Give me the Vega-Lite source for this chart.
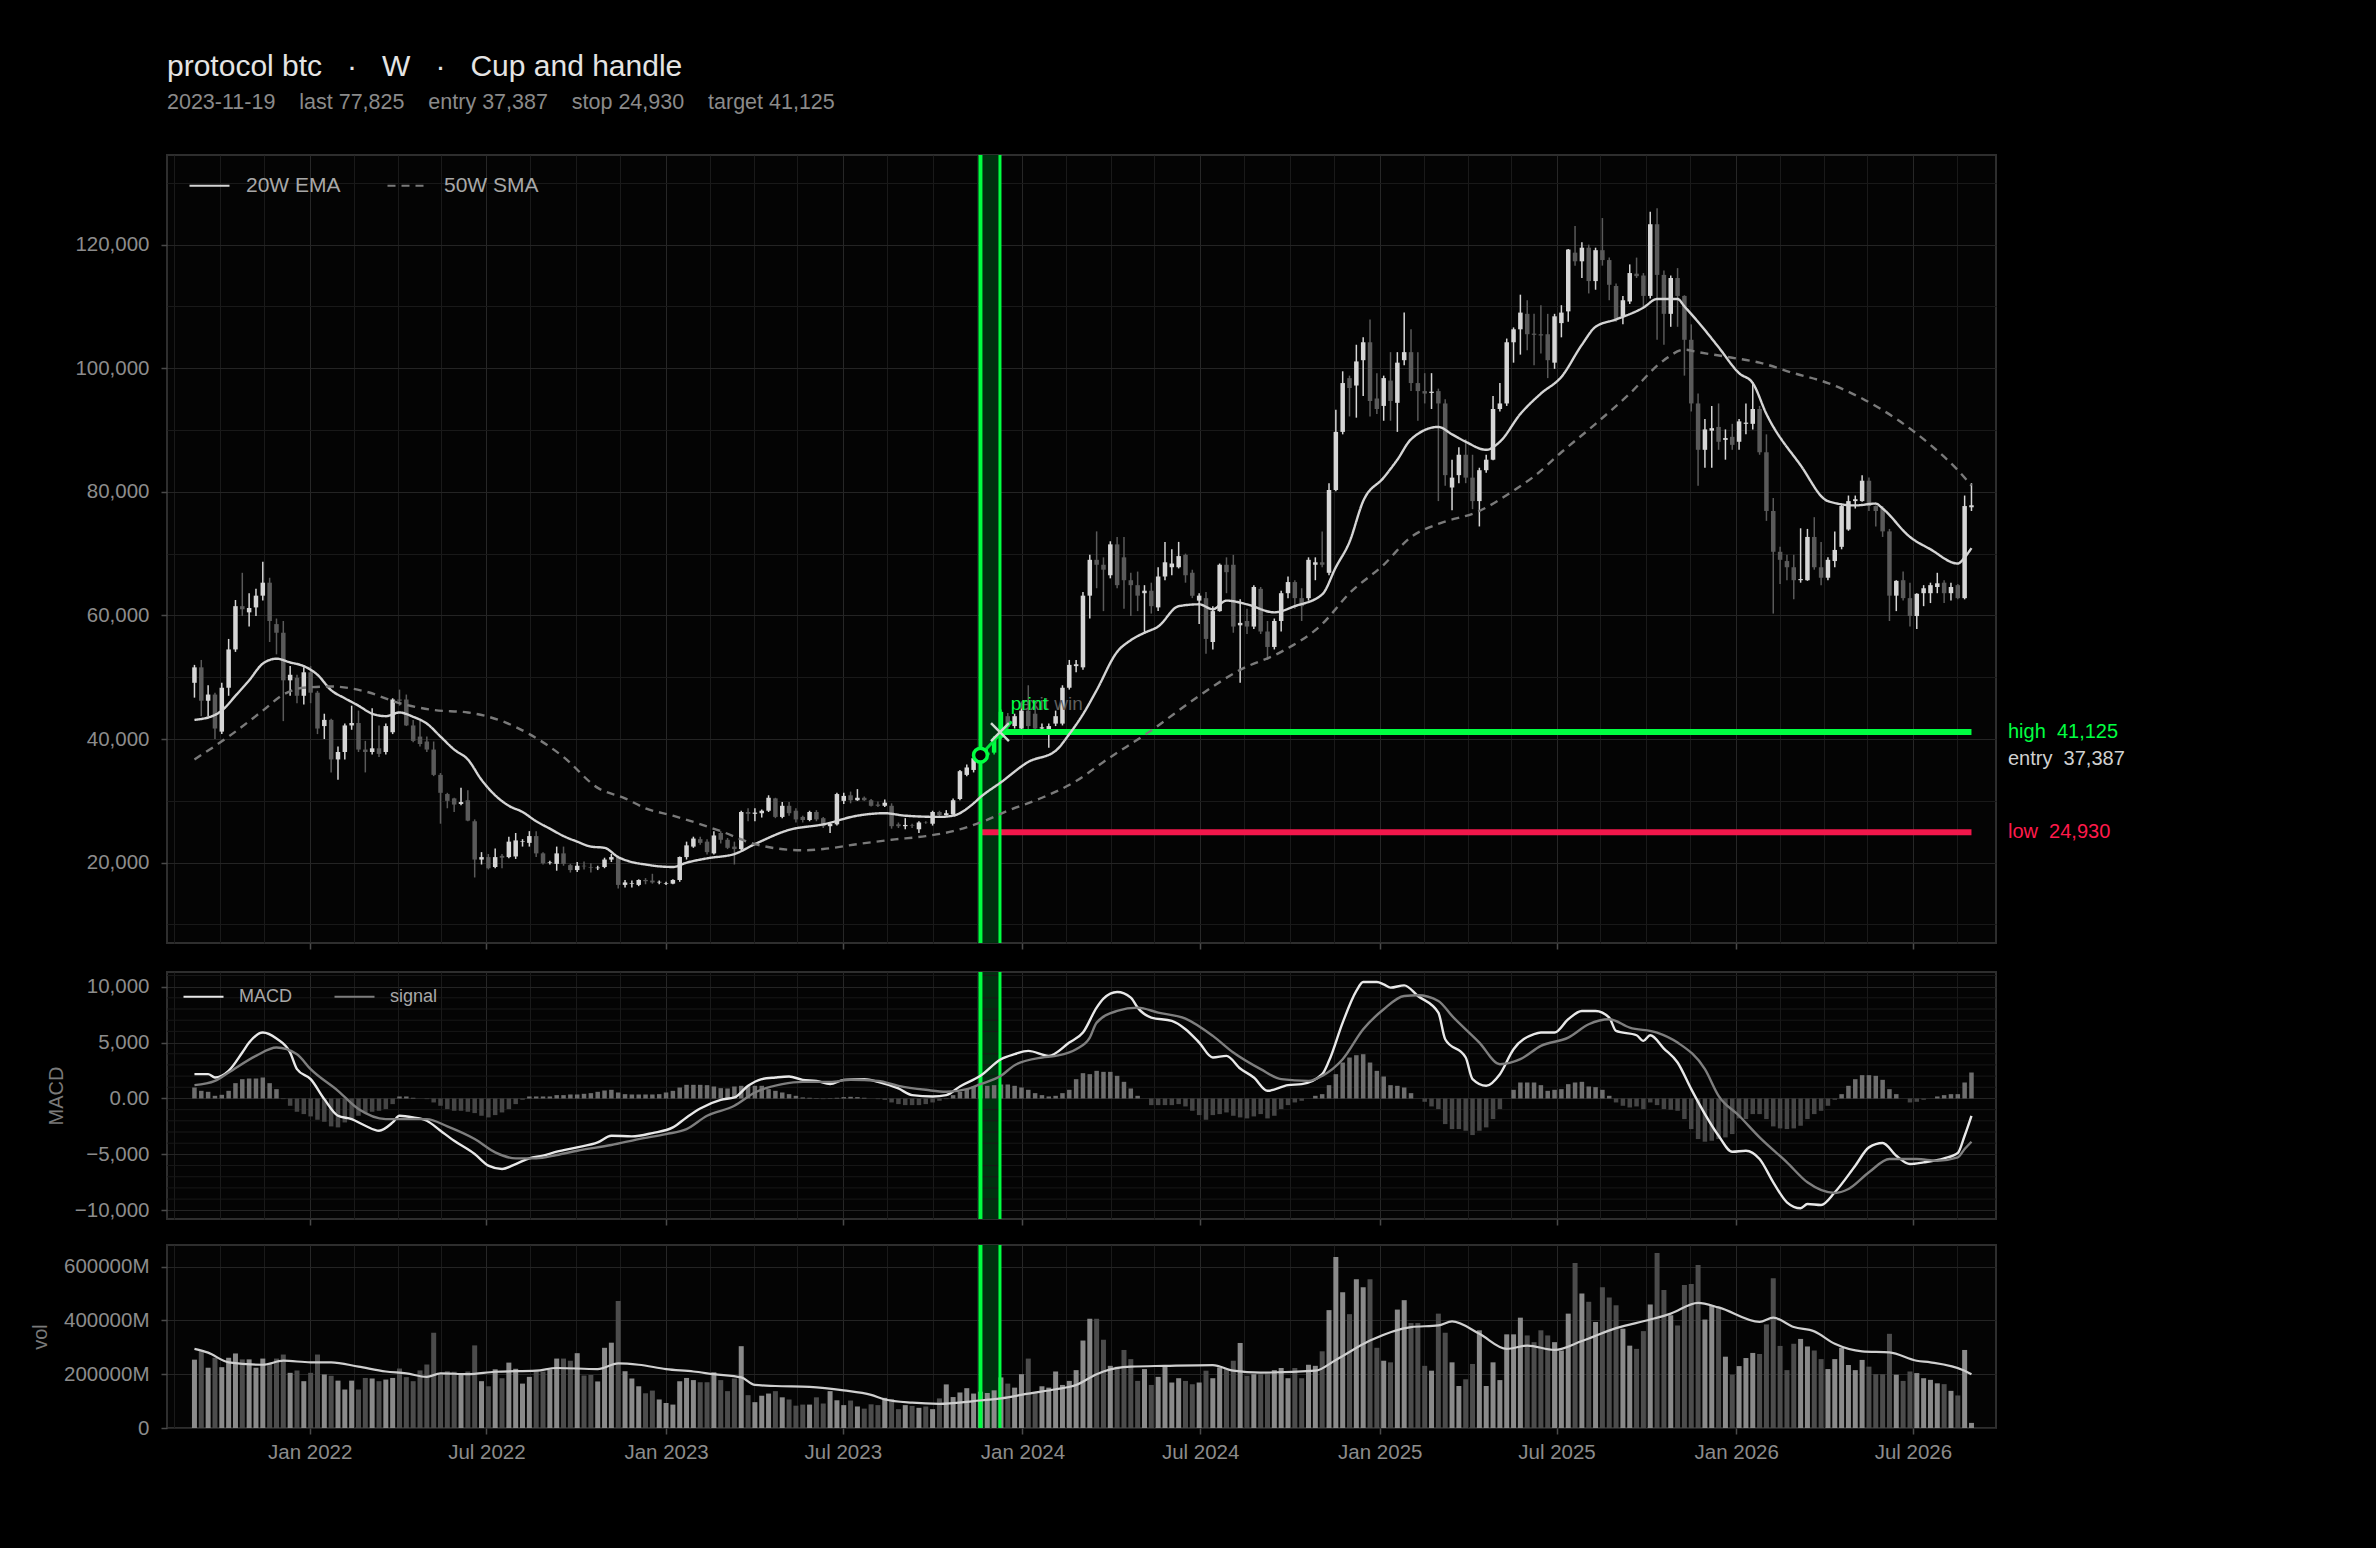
{
  "$schema": "https://vega.github.io/schema/vega-lite/v6.json",
  "background": "#000000",
  "padding": {"left": 29, "top": 50, "right": 268, "bottom": 86},
  "spacing": 18,
  "config": {
    "font": "Liberation Sans",
    "view": {"stroke": "#2e2e2e", "strokeWidth": 2, "fill": "#040404"},
    "axis": {
      "labelColor": "#8c8c8c", "labelFontSize": 20.5, "labelFont": "Liberation Sans",
      "titleColor": "#7a7a7a", "titleFont": "Liberation Sans", "titleFontSize": 20, "titleFontWeight": "normal",
      "domain": false, "tickColor": "#4a4a4a", "tickSize": 6, "tickWidth": 1.5, "gridWidth": 1,
      "labelOverlap": false, "labelFlush": false
    }
  },
  "resolve": {"scale": {"color": "independent", "strokeDash": "independent"}, "legend": {"color": "independent", "strokeDash": "independent"}},
  "datasets": {
    "candles": [
      {"d":"2021-09-05","o":49100,"h":52000,"l":46700,"c":51600,"v":254000,"m":982},
      {"d":"2021-09-12","o":51600,"h":52800,"l":43700,"c":46200,"v":286000,"m":684},
      {"d":"2021-09-19","o":46200,"h":48700,"l":43700,"c":47200,"v":224000,"m":595},
      {"d":"2021-09-26","o":47200,"h":47500,"l":40000,"c":41700,"v":261000,"m":238},
      {"d":"2021-10-03","o":41200,"h":49100,"l":40800,"c":48300,"v":226000,"m":327},
      {"d":"2021-10-10","o":48300,"h":56200,"l":47000,"c":54500,"v":261000,"m":684},
      {"d":"2021-10-17","o":54500,"h":62500,"l":54100,"c":61500,"v":277000,"m":1369},
      {"d":"2021-10-24","o":61500,"h":66900,"l":59900,"c":61000,"v":255000,"m":1726},
      {"d":"2021-10-31","o":60500,"h":63600,"l":58200,"c":61200,"v":255000,"m":1786},
      {"d":"2021-11-07","o":61300,"h":64300,"l":59900,"c":63200,"v":224000,"m":1786},
      {"d":"2021-11-14","o":63200,"h":68700,"l":62400,"c":65300,"v":258000,"m":1875},
      {"d":"2021-11-21","o":65300,"h":66100,"l":55700,"c":59100,"v":242000,"m":1369},
      {"d":"2021-11-28","o":58600,"h":59500,"l":53700,"c":57200,"v":258000,"m":833},
      {"d":"2021-12-05","o":57200,"h":59100,"l":42900,"c":49500,"v":273000,"m":-60},
      {"d":"2021-12-12","o":49500,"h":51800,"l":47000,"c":50400,"v":205000,"m":-655},
      {"d":"2021-12-19","o":49900,"h":50400,"l":45800,"c":47000,"v":214000,"m":-1190},
      {"d":"2021-12-26","o":47000,"h":51600,"l":45600,"c":50800,"v":174000,"m":-1399},
      {"d":"2022-01-02","o":50800,"h":51800,"l":45800,"c":47500,"v":205000,"m":-1607},
      {"d":"2022-01-09","o":47500,"h":47800,"l":40800,"c":41700,"v":273000,"m":-1905},
      {"d":"2022-01-16","o":42100,"h":44100,"l":40000,"c":43100,"v":199000,"m":-2083},
      {"d":"2022-01-23","o":43100,"h":43300,"l":34600,"c":36700,"v":194000,"m":-2500},
      {"d":"2022-01-30","o":36700,"h":38800,"l":33400,"c":37900,"v":176000,"m":-2589},
      {"d":"2022-02-06","o":37900,"h":42500,"l":36700,"c":42200,"v":143000,"m":-2143},
      {"d":"2022-02-13","o":42200,"h":45400,"l":41500,"c":42600,"v":176000,"m":-1845},
      {"d":"2022-02-20","o":42600,"h":44600,"l":37900,"c":38300,"v":143000,"m":-1548},
      {"d":"2022-02-27","o":38300,"h":39700,"l":34600,"c":37900,"v":186000,"m":-1309},
      {"d":"2022-03-06","o":37900,"h":45000,"l":37500,"c":38500,"v":184000,"m":-1190},
      {"d":"2022-03-13","o":38500,"h":42200,"l":37100,"c":37600,"v":174000,"m":-1101},
      {"d":"2022-03-20","o":37900,"h":42500,"l":37500,"c":42100,"v":180000,"m":-952},
      {"d":"2022-03-27","o":41100,"h":46600,"l":40800,"c":46400,"v":186000,"m":-506},
      {"d":"2022-04-03","o":46400,"h":48000,"l":45400,"c":46200,"v":221000,"m":179},
      {"d":"2022-04-10","o":46400,"h":47200,"l":42100,"c":42200,"v":189000,"m":179},
      {"d":"2022-04-17","o":42200,"h":43100,"l":39500,"c":39700,"v":174000,"m":60},
      {"d":"2022-04-24","o":40400,"h":42900,"l":38800,"c":39200,"v":214000,"m":0},
      {"d":"2022-05-01","o":39600,"h":40400,"l":37900,"c":38300,"v":236000,"m":-60},
      {"d":"2022-05-08","o":38300,"h":39600,"l":34000,"c":34200,"v":354000,"m":-357},
      {"d":"2022-05-15","o":34200,"h":34500,"l":26300,"c":31300,"v":199000,"m":-655},
      {"d":"2022-05-22","o":31100,"h":31300,"l":28800,"c":30000,"v":211000,"m":-952},
      {"d":"2022-05-29","o":30400,"h":30500,"l":28200,"c":29400,"v":209000,"m":-1101},
      {"d":"2022-06-05","o":29500,"h":32100,"l":29300,"c":29800,"v":201000,"m":-1101},
      {"d":"2022-06-12","o":30100,"h":31700,"l":26700,"c":26800,"v":210000,"m":-1190},
      {"d":"2022-06-19","o":26700,"h":27000,"l":17600,"c":20500,"v":307000,"m":-1309},
      {"d":"2022-06-26","o":20500,"h":21700,"l":19700,"c":20900,"v":174000,"m":-1548},
      {"d":"2022-07-03","o":20900,"h":21400,"l":18900,"c":19100,"v":155000,"m":-1696},
      {"d":"2022-07-10","o":19300,"h":22300,"l":19100,"c":20900,"v":218000,"m":-1488},
      {"d":"2022-07-17","o":21100,"h":21400,"l":19100,"c":20800,"v":185000,"m":-1250},
      {"d":"2022-07-24","o":20900,"h":24200,"l":20700,"c":23400,"v":243000,"m":-952},
      {"d":"2022-07-31","o":21000,"h":24800,"l":20600,"c":23600,"v":220000,"m":-506},
      {"d":"2022-08-07","o":23400,"h":23800,"l":22600,"c":23500,"v":165000,"m":-119},
      {"d":"2022-08-14","o":23200,"h":25100,"l":22600,"c":24300,"v":190000,"m":179},
      {"d":"2022-08-21","o":24300,"h":25100,"l":20900,"c":21500,"v":215000,"m":179},
      {"d":"2022-08-28","o":21500,"h":21700,"l":19700,"c":19900,"v":210000,"m":179},
      {"d":"2022-09-04","o":20000,"h":20300,"l":19700,"c":20100,"v":218000,"m":179},
      {"d":"2022-09-11","o":19800,"h":22600,"l":18700,"c":21500,"v":258000,"m":298},
      {"d":"2022-09-18","o":21500,"h":22600,"l":19500,"c":19800,"v":258000,"m":298},
      {"d":"2022-09-25","o":19600,"h":19800,"l":18400,"c":18800,"v":250000,"m":357},
      {"d":"2022-10-02","o":18800,"h":20100,"l":18500,"c":19500,"v":278000,"m":357},
      {"d":"2022-10-09","o":19500,"h":20200,"l":18900,"c":19400,"v":195000,"m":417},
      {"d":"2022-10-16","o":19300,"h":19900,"l":18400,"c":19200,"v":197000,"m":476},
      {"d":"2022-10-23","o":19100,"h":19500,"l":18800,"c":19200,"v":173000,"m":595},
      {"d":"2022-10-30","o":19300,"h":20800,"l":19100,"c":20500,"v":298000,"m":714},
      {"d":"2022-11-06","o":20500,"h":21400,"l":20100,"c":20900,"v":317000,"m":774},
      {"d":"2022-11-13","o":20900,"h":21100,"l":15800,"c":16400,"v":472000,"m":536},
      {"d":"2022-11-20","o":16400,"h":17200,"l":16000,"c":16800,"v":211000,"m":387},
      {"d":"2022-11-27","o":16600,"h":17100,"l":16000,"c":16700,"v":184000,"m":357},
      {"d":"2022-12-04","o":16400,"h":17300,"l":16200,"c":17200,"v":155000,"m":357},
      {"d":"2022-12-11","o":17200,"h":17500,"l":16500,"c":17000,"v":129000,"m":357},
      {"d":"2022-12-18","o":17100,"h":18200,"l":16600,"c":16800,"v":139000,"m":357},
      {"d":"2022-12-25","o":16800,"h":17100,"l":16500,"c":16900,"v":106000,"m":387},
      {"d":"2023-01-01","o":16600,"h":16900,"l":16400,"c":16700,"v":93000,"m":536},
      {"d":"2023-01-08","o":16600,"h":17300,"l":16500,"c":17200,"v":87000,"m":684},
      {"d":"2023-01-15","o":17200,"h":21000,"l":16900,"c":20900,"v":174000,"m":982},
      {"d":"2023-01-22","o":20900,"h":23400,"l":20500,"c":22800,"v":186000,"m":1220},
      {"d":"2023-01-29","o":22600,"h":24200,"l":22400,"c":23900,"v":178000,"m":1220},
      {"d":"2023-02-05","o":23800,"h":24200,"l":22900,"c":23200,"v":170000,"m":1220},
      {"d":"2023-02-12","o":23400,"h":23800,"l":21300,"c":21700,"v":170000,"m":1190},
      {"d":"2023-02-19","o":21500,"h":25100,"l":21300,"c":24400,"v":207000,"m":1071},
      {"d":"2023-02-26","o":24800,"h":25100,"l":23100,"c":23700,"v":178000,"m":923},
      {"d":"2023-03-05","o":23700,"h":24000,"l":22200,"c":22400,"v":137000,"m":893},
      {"d":"2023-03-12","o":22600,"h":23400,"l":19700,"c":22200,"v":184000,"m":1071},
      {"d":"2023-03-19","o":22200,"h":28400,"l":22000,"c":28200,"v":304000,"m":1131},
      {"d":"2023-03-26","o":28200,"h":28800,"l":26700,"c":27900,"v":122000,"m":1131},
      {"d":"2023-04-02","o":27900,"h":28800,"l":26700,"c":28100,"v":96000,"m":1131},
      {"d":"2023-04-09","o":28000,"h":28600,"l":27300,"c":28400,"v":120000,"m":1131},
      {"d":"2023-04-16","o":28400,"h":30900,"l":28200,"c":30500,"v":128000,"m":833},
      {"d":"2023-04-23","o":30400,"h":30500,"l":27200,"c":27400,"v":137000,"m":684},
      {"d":"2023-04-30","o":27400,"h":29800,"l":27200,"c":29200,"v":114000,"m":536},
      {"d":"2023-05-07","o":29200,"h":29800,"l":27600,"c":28000,"v":106000,"m":387},
      {"d":"2023-05-14","o":28400,"h":28800,"l":26500,"c":27000,"v":83000,"m":238},
      {"d":"2023-05-21","o":27400,"h":27600,"l":26500,"c":26900,"v":87000,"m":89},
      {"d":"2023-05-28","o":26900,"h":28400,"l":26700,"c":28200,"v":87000,"m":60},
      {"d":"2023-06-04","o":28200,"h":28500,"l":26700,"c":27000,"v":114000,"m":30},
      {"d":"2023-06-11","o":27200,"h":27400,"l":25600,"c":25900,"v":91000,"m":-60},
      {"d":"2023-06-18","o":25900,"h":26500,"l":24800,"c":26300,"v":137000,"m":30},
      {"d":"2023-06-25","o":26200,"h":31300,"l":26000,"c":31100,"v":103000,"m":60},
      {"d":"2023-07-02","o":30000,"h":31300,"l":29500,"c":30800,"v":85000,"m":119},
      {"d":"2023-07-09","o":30900,"h":31500,"l":29600,"c":30100,"v":102000,"m":149},
      {"d":"2023-07-16","o":30100,"h":31900,"l":30000,"c":30500,"v":80000,"m":119},
      {"d":"2023-07-23","o":30500,"h":30700,"l":30000,"c":30100,"v":72000,"m":60},
      {"d":"2023-07-30","o":30100,"h":30300,"l":29100,"c":29200,"v":88000,"m":0},
      {"d":"2023-08-06","o":29400,"h":29900,"l":29000,"c":29200,"v":85000,"m":-60},
      {"d":"2023-08-13","o":29200,"h":30200,"l":29000,"c":29700,"v":112000,"m":-119},
      {"d":"2023-08-20","o":29200,"h":29600,"l":25500,"c":25900,"v":108000,"m":-357},
      {"d":"2023-08-27","o":26200,"h":26500,"l":25600,"c":25900,"v":70000,"m":-506},
      {"d":"2023-09-03","o":25900,"h":27200,"l":25400,"c":26100,"v":85000,"m":-595},
      {"d":"2023-09-10","o":26100,"h":26300,"l":25600,"c":26000,"v":82000,"m":-595},
      {"d":"2023-09-17","o":25400,"h":26700,"l":24800,"c":26500,"v":75000,"m":-595},
      {"d":"2023-09-24","o":26500,"h":26700,"l":26300,"c":26450,"v":80000,"m":-506},
      {"d":"2023-10-01","o":26300,"h":28400,"l":26000,"c":28200,"v":70000,"m":-357},
      {"d":"2023-10-08","o":28200,"h":28400,"l":27500,"c":27700,"v":110000,"m":-208},
      {"d":"2023-10-15","o":27700,"h":28500,"l":27600,"c":28000,"v":162000,"m":-60},
      {"d":"2023-10-22","o":27800,"h":30400,"l":27600,"c":30100,"v":115000,"m":298},
      {"d":"2023-10-29","o":30300,"h":35000,"l":30100,"c":34800,"v":132000,"m":595},
      {"d":"2023-11-05","o":34200,"h":35900,"l":34000,"c":35400,"v":148000,"m":833},
      {"d":"2023-11-12","o":35000,"h":37500,"l":34600,"c":36900,"v":128000,"m":1071},
      {"d":"2023-11-19","o":36900,"h":37900,"l":36300,"c":37400,"v":135000,"m":1190},
      {"d":"2023-11-26","o":37400,"h":38400,"l":36800,"c":37800,"v":130000,"m":1131},
      {"d":"2023-12-03","o":37800,"h":40500,"l":37500,"c":40200,"v":140000,"m":1190},
      {"d":"2023-12-10","o":40200,"h":44800,"l":40000,"c":44400,"v":188000,"m":1250},
      {"d":"2023-12-17","o":43700,"h":44200,"l":41600,"c":42000,"v":165000,"m":1250},
      {"d":"2023-12-24","o":42100,"h":44100,"l":41700,"c":43700,"v":150000,"m":1131},
      {"d":"2023-12-31","o":41700,"h":45800,"l":41400,"c":44600,"v":200000,"m":982},
      {"d":"2024-01-07","o":44600,"h":48700,"l":41200,"c":42100,"v":258000,"m":774},
      {"d":"2024-01-14","o":44100,"h":46200,"l":41200,"c":41700,"v":130000,"m":476},
      {"d":"2024-01-21","o":41700,"h":42500,"l":41200,"c":41900,"v":155000,"m":298},
      {"d":"2024-01-28","o":41200,"h":42500,"l":38600,"c":42100,"v":150000,"m":179},
      {"d":"2024-02-04","o":42500,"h":44600,"l":42100,"c":43700,"v":210000,"m":238},
      {"d":"2024-02-11","o":42500,"h":48700,"l":42200,"c":48300,"v":160000,"m":476},
      {"d":"2024-02-18","o":48300,"h":52800,"l":48000,"c":52000,"v":175000,"m":774},
      {"d":"2024-02-25","o":51800,"h":52800,"l":50800,"c":52100,"v":215000,"m":1726},
      {"d":"2024-03-03","o":51600,"h":63800,"l":51200,"c":63200,"v":325000,"m":2262},
      {"d":"2024-03-10","o":63200,"h":69800,"l":59500,"c":69000,"v":406000,"m":2173},
      {"d":"2024-03-17","o":69000,"h":73600,"l":64400,"c":68200,"v":406000,"m":2470},
      {"d":"2024-03-24","o":68200,"h":69400,"l":60700,"c":67400,"v":328000,"m":2381},
      {"d":"2024-03-31","o":66500,"h":72000,"l":66000,"c":71500,"v":231000,"m":2381},
      {"d":"2024-04-07","o":71500,"h":72700,"l":64400,"c":64900,"v":228000,"m":2024},
      {"d":"2024-04-14","o":69400,"h":72700,"l":61100,"c":65700,"v":290000,"m":1488},
      {"d":"2024-04-21","o":65700,"h":66900,"l":59900,"c":64900,"v":256000,"m":893},
      {"d":"2024-04-28","o":64900,"h":67100,"l":60700,"c":63200,"v":175000,"m":238},
      {"d":"2024-05-05","o":63600,"h":64900,"l":57000,"c":64000,"v":219000,"m":0},
      {"d":"2024-05-12","o":64000,"h":65300,"l":60300,"c":61500,"v":160000,"m":-595},
      {"d":"2024-05-19","o":61300,"h":67800,"l":60700,"c":66300,"v":190000,"m":-595},
      {"d":"2024-05-26","o":66300,"h":71900,"l":65700,"c":68600,"v":228000,"m":-595},
      {"d":"2024-06-02","o":67800,"h":70700,"l":66500,"c":68400,"v":169000,"m":-595},
      {"d":"2024-06-09","o":67800,"h":71900,"l":67600,"c":69600,"v":185000,"m":-506},
      {"d":"2024-06-16","o":69800,"h":70000,"l":65300,"c":66500,"v":175000,"m":-714},
      {"d":"2024-06-23","o":66900,"h":67400,"l":62800,"c":63200,"v":163000,"m":-1101},
      {"d":"2024-06-30","o":62400,"h":63600,"l":58600,"c":63200,"v":169000,"m":-1488},
      {"d":"2024-07-07","o":62800,"h":63800,"l":53800,"c":56200,"v":213000,"m":-1905},
      {"d":"2024-07-14","o":55700,"h":61500,"l":54500,"c":60700,"v":185000,"m":-1488},
      {"d":"2024-07-21","o":60700,"h":68400,"l":60600,"c":68200,"v":225000,"m":-1399},
      {"d":"2024-07-28","o":68200,"h":69400,"l":63600,"c":67000,"v":219000,"m":-1250},
      {"d":"2024-08-04","o":68200,"h":69800,"l":57200,"c":58200,"v":250000,"m":-1548},
      {"d":"2024-08-11","o":58400,"h":62600,"l":49100,"c":58800,"v":316000,"m":-1696},
      {"d":"2024-08-18","o":59100,"h":61100,"l":57000,"c":58200,"v":194000,"m":-1786},
      {"d":"2024-08-25","o":58200,"h":64900,"l":57800,"c":64600,"v":200000,"m":-1607},
      {"d":"2024-09-01","o":64300,"h":64600,"l":57000,"c":57400,"v":200000,"m":-1399},
      {"d":"2024-09-08","o":57400,"h":59100,"l":52800,"c":54900,"v":203000,"m":-1786},
      {"d":"2024-09-15","o":54900,"h":59500,"l":54500,"c":59100,"v":215000,"m":-1548},
      {"d":"2024-09-22","o":59100,"h":64000,"l":57400,"c":63600,"v":223000,"m":-952},
      {"d":"2024-09-29","o":63600,"h":66300,"l":62800,"c":65400,"v":185000,"m":-595},
      {"d":"2024-10-06","o":65400,"h":65700,"l":61100,"c":62800,"v":223000,"m":-357},
      {"d":"2024-10-13","o":62800,"h":64400,"l":59100,"c":61500,"v":185000,"m":-208},
      {"d":"2024-10-20","o":62800,"h":69400,"l":62400,"c":69000,"v":235000,"m":0},
      {"d":"2024-10-27","o":68200,"h":69400,"l":65700,"c":68600,"v":231000,"m":238},
      {"d":"2024-11-03","o":68600,"h":73600,"l":67800,"c":68200,"v":285000,"m":387},
      {"d":"2024-11-10","o":66900,"h":81400,"l":66500,"c":80300,"v":438000,"m":1190},
      {"d":"2024-11-17","o":80300,"h":93300,"l":80100,"c":89700,"v":635000,"m":2173},
      {"d":"2024-11-24","o":89700,"h":99500,"l":89300,"c":97600,"v":504000,"m":3214},
      {"d":"2024-12-01","o":98400,"h":98800,"l":92200,"c":96800,"v":423000,"m":3661},
      {"d":"2024-12-08","o":97200,"h":103800,"l":92000,"c":101100,"v":553000,"m":3869},
      {"d":"2024-12-15","o":101300,"h":105000,"l":95500,"c":104200,"v":523000,"m":3958},
      {"d":"2024-12-22","o":104200,"h":107900,"l":92200,"c":94700,"v":553000,"m":3214},
      {"d":"2024-12-29","o":95100,"h":99200,"l":92600,"c":93400,"v":298000,"m":2470},
      {"d":"2025-01-05","o":93900,"h":98800,"l":91500,"c":98400,"v":250000,"m":1964},
      {"d":"2025-01-12","o":98000,"h":102600,"l":91500,"c":94700,"v":244000,"m":1190},
      {"d":"2025-01-19","o":94400,"h":102600,"l":89700,"c":100900,"v":440000,"m":1131},
      {"d":"2025-01-26","o":101300,"h":109000,"l":100500,"c":102600,"v":475000,"m":982},
      {"d":"2025-02-02","o":102600,"h":106300,"l":96300,"c":97600,"v":390000,"m":476},
      {"d":"2025-02-09","o":97600,"h":102600,"l":91500,"c":96300,"v":390000,"m":0},
      {"d":"2025-02-16","o":96300,"h":99200,"l":94300,"c":95900,"v":231000,"m":-298},
      {"d":"2025-02-23","o":96000,"h":99200,"l":93400,"c":96200,"v":213000,"m":-714},
      {"d":"2025-03-02","o":96300,"h":96700,"l":78500,"c":94300,"v":425000,"m":-952},
      {"d":"2025-03-09","o":94300,"h":95000,"l":81000,"c":82700,"v":354000,"m":-2292},
      {"d":"2025-03-16","o":80700,"h":85200,"l":77000,"c":82300,"v":244000,"m":-2738},
      {"d":"2025-03-23","o":82700,"h":87200,"l":81400,"c":86000,"v":156000,"m":-2738},
      {"d":"2025-03-30","o":86000,"h":88500,"l":81400,"c":82300,"v":181000,"m":-2887},
      {"d":"2025-04-06","o":82300,"h":86000,"l":77200,"c":78500,"v":238000,"m":-3274},
      {"d":"2025-04-13","o":78500,"h":83900,"l":74400,"c":83500,"v":363000,"m":-2887},
      {"d":"2025-04-20","o":83500,"h":86000,"l":83100,"c":85200,"v":156000,"m":-2589},
      {"d":"2025-04-27","o":85200,"h":95500,"l":85100,"c":93400,"v":244000,"m":-1845},
      {"d":"2025-05-04","o":93400,"h":97600,"l":93000,"c":94300,"v":178000,"m":-952},
      {"d":"2025-05-11","o":94300,"h":104800,"l":93900,"c":104200,"v":348000,"m":0},
      {"d":"2025-05-18","o":104200,"h":106600,"l":100900,"c":106300,"v":348000,"m":774},
      {"d":"2025-05-25","o":106300,"h":111900,"l":102200,"c":109000,"v":410000,"m":1428},
      {"d":"2025-06-01","o":108800,"h":111000,"l":102900,"c":105500,"v":344000,"m":1428},
      {"d":"2025-06-08","o":105600,"h":108800,"l":100500,"c":105400,"v":319000,"m":1428},
      {"d":"2025-06-15","o":105500,"h":110200,"l":102400,"c":105300,"v":363000,"m":1190},
      {"d":"2025-06-22","o":105500,"h":108800,"l":98400,"c":101300,"v":344000,"m":684},
      {"d":"2025-06-29","o":100900,"h":108800,"l":99900,"c":108400,"v":319000,"m":774},
      {"d":"2025-07-06","o":107300,"h":110200,"l":105000,"c":109000,"v":288000,"m":833},
      {"d":"2025-07-13","o":109200,"h":119300,"l":107500,"c":119200,"v":425000,"m":1280},
      {"d":"2025-07-20","o":118700,"h":123000,"l":116600,"c":117300,"v":613000,"m":1428},
      {"d":"2025-07-27","o":117300,"h":120400,"l":114600,"c":119500,"v":500000,"m":1488},
      {"d":"2025-08-03","o":119500,"h":120000,"l":112100,"c":114100,"v":469000,"m":1071},
      {"d":"2025-08-10","o":114100,"h":119500,"l":112700,"c":119100,"v":394000,"m":1012},
      {"d":"2025-08-17","o":119100,"h":124300,"l":116600,"c":117500,"v":523000,"m":774},
      {"d":"2025-08-24","o":117500,"h":117900,"l":111000,"c":113500,"v":485000,"m":238},
      {"d":"2025-08-31","o":113300,"h":113700,"l":107500,"c":107900,"v":456000,"m":-357},
      {"d":"2025-09-07","o":108400,"h":111700,"l":107100,"c":111000,"v":369000,"m":-655},
      {"d":"2025-09-14","o":110800,"h":116800,"l":110400,"c":115400,"v":306000,"m":-804},
      {"d":"2025-09-21","o":115300,"h":117900,"l":114600,"c":114900,"v":294000,"m":-714},
      {"d":"2025-09-28","o":115000,"h":115400,"l":110000,"c":111700,"v":360000,"m":-952},
      {"d":"2025-10-05","o":111700,"h":125300,"l":111300,"c":123300,"v":459000,"m":-357},
      {"d":"2025-10-12","o":123300,"h":125900,"l":104600,"c":115100,"v":650000,"m":-595},
      {"d":"2025-10-19","o":115100,"h":115800,"l":103800,"c":108800,"v":513000,"m":-952},
      {"d":"2025-10-26","o":108800,"h":115000,"l":106700,"c":114600,"v":419000,"m":-1012},
      {"d":"2025-11-02","o":114600,"h":116200,"l":106700,"c":111700,"v":381000,"m":-1101},
      {"d":"2025-11-09","o":111700,"h":111800,"l":98800,"c":104600,"v":531000,"m":-1845},
      {"d":"2025-11-16","o":104600,"h":107100,"l":93000,"c":94300,"v":535000,"m":-2738},
      {"d":"2025-11-23","o":94300,"h":95900,"l":81000,"c":86800,"v":606000,"m":-3631},
      {"d":"2025-11-30","o":86800,"h":91800,"l":83900,"c":90100,"v":403000,"m":-3869},
      {"d":"2025-12-07","o":89900,"h":93900,"l":83900,"c":90300,"v":456000,"m":-3780},
      {"d":"2025-12-14","o":90500,"h":94300,"l":86800,"c":88100,"v":450000,"m":-3631},
      {"d":"2025-12-21","o":88400,"h":90100,"l":85200,"c":88700,"v":265000,"m":-3482},
      {"d":"2025-12-28","o":88900,"h":91000,"l":86800,"c":87600,"v":198000,"m":-3184},
      {"d":"2026-01-04","o":88100,"h":91800,"l":86800,"c":91400,"v":230000,"m":-1786},
      {"d":"2026-01-11","o":91000,"h":94300,"l":89300,"c":91200,"v":260000,"m":-1845},
      {"d":"2026-01-18","o":91000,"h":97600,"l":90100,"c":93400,"v":279000,"m":-1399},
      {"d":"2026-01-25","o":93400,"h":93900,"l":86000,"c":86400,"v":275000,"m":-1399},
      {"d":"2026-02-01","o":86400,"h":89300,"l":75300,"c":76900,"v":385000,"m":-1845},
      {"d":"2026-02-08","o":76900,"h":79000,"l":60300,"c":70300,"v":556000,"m":-2500},
      {"d":"2026-02-15","o":70300,"h":71100,"l":65100,"c":69000,"v":305000,"m":-2678},
      {"d":"2026-02-22","o":68800,"h":69800,"l":65700,"c":67800,"v":215000,"m":-2738},
      {"d":"2026-03-01","o":67800,"h":69800,"l":62600,"c":65700,"v":313000,"m":-2678},
      {"d":"2026-03-08","o":65700,"h":74100,"l":65300,"c":65900,"v":331000,"m":-2440},
      {"d":"2026-03-15","o":65700,"h":74000,"l":65600,"c":72700,"v":303000,"m":-1845},
      {"d":"2026-03-22","o":72700,"h":75900,"l":67400,"c":67800,"v":288000,"m":-1399},
      {"d":"2026-03-29","o":67800,"h":71900,"l":64900,"c":66100,"v":256000,"m":-1101},
      {"d":"2026-04-05","o":66100,"h":69400,"l":65700,"c":69000,"v":219000,"m":-655},
      {"d":"2026-04-12","o":68800,"h":73600,"l":67800,"c":70600,"v":256000,"m":-119},
      {"d":"2026-04-19","o":71100,"h":78100,"l":70700,"c":77700,"v":298000,"m":387},
      {"d":"2026-04-26","o":73900,"h":79400,"l":73700,"c":78500,"v":234000,"m":1131},
      {"d":"2026-05-03","o":78500,"h":79400,"l":77300,"c":78800,"v":215000,"m":1726},
      {"d":"2026-05-10","o":78500,"h":82700,"l":78400,"c":81800,"v":253000,"m":2083},
      {"d":"2026-05-17","o":81800,"h":82300,"l":76900,"c":77700,"v":228000,"m":2083},
      {"d":"2026-05-24","o":77700,"h":77800,"l":74400,"c":76900,"v":200000,"m":2024},
      {"d":"2026-05-31","o":77300,"h":77700,"l":72700,"c":73600,"v":200000,"m":1667},
      {"d":"2026-06-07","o":73600,"h":74000,"l":59100,"c":63200,"v":350000,"m":833},
      {"d":"2026-06-14","o":63200,"h":65700,"l":60700,"c":65600,"v":198000,"m":387},
      {"d":"2026-06-21","o":65700,"h":67100,"l":62400,"c":62800,"v":175000,"m":0},
      {"d":"2026-06-28","o":62800,"h":65300,"l":58200,"c":59900,"v":210000,"m":-357},
      {"d":"2026-07-05","o":59900,"h":63600,"l":57800,"c":63500,"v":204000,"m":-298},
      {"d":"2026-07-12","o":63600,"h":64900,"l":61500,"c":64400,"v":185000,"m":-119},
      {"d":"2026-07-19","o":63600,"h":65300,"l":62000,"c":64900,"v":179000,"m":0},
      {"d":"2026-07-26","o":64600,"h":66900,"l":63600,"c":65200,"v":166000,"m":179},
      {"d":"2026-08-02","o":65300,"h":65700,"l":62000,"c":63600,"v":163000,"m":298},
      {"d":"2026-08-09","o":63600,"h":65300,"l":62400,"c":64600,"v":138000,"m":387},
      {"d":"2026-08-16","o":64900,"h":65100,"l":62600,"c":62800,"v":121000,"m":387},
      {"d":"2026-08-23","o":62800,"h":79400,"l":62600,"c":77700,"v":290000,"m":1428},
      {"d":"2026-08-30","o":77500,"h":81400,"l":76900,"c":77825,"v":19000,"m":2321}
    ],
    "ma": [
      {"d":"2021-09-05","s":"20W EMA","y":43100},{"d":"2021-09-26","s":"20W EMA","y":43900},{"d":"2021-10-03","s":"20W EMA","y":44600},
      {"d":"2021-10-17","s":"20W EMA","y":47000},{"d":"2021-10-31","s":"20W EMA","y":49500},{"d":"2021-11-14","s":"20W EMA","y":52200},
      {"d":"2021-11-28","s":"20W EMA","y":53000},{"d":"2021-12-12","s":"20W EMA","y":52400},{"d":"2021-12-26","s":"20W EMA","y":51800},
      {"d":"2022-01-09","s":"20W EMA","y":50400},{"d":"2022-01-23","s":"20W EMA","y":47900},{"d":"2022-02-06","s":"20W EMA","y":46600},
      {"d":"2022-02-20","s":"20W EMA","y":45400},{"d":"2022-03-06","s":"20W EMA","y":44100},{"d":"2022-03-20","s":"20W EMA","y":43700},
      {"d":"2022-04-03","s":"20W EMA","y":44300},{"d":"2022-04-17","s":"20W EMA","y":43600},{"d":"2022-05-01","s":"20W EMA","y":42500},
      {"d":"2022-05-15","s":"20W EMA","y":40400},{"d":"2022-05-29","s":"20W EMA","y":38300},{"d":"2022-06-12","s":"20W EMA","y":36700},
      {"d":"2022-06-26","s":"20W EMA","y":33400},{"d":"2022-07-10","s":"20W EMA","y":30900},{"d":"2022-07-24","s":"20W EMA","y":29200},
      {"d":"2022-08-07","s":"20W EMA","y":28200},{"d":"2022-08-21","s":"20W EMA","y":26700},{"d":"2022-09-04","s":"20W EMA","y":25500},
      {"d":"2022-09-18","s":"20W EMA","y":24300},{"d":"2022-10-02","s":"20W EMA","y":23400},{"d":"2022-10-16","s":"20W EMA","y":22600},
      {"d":"2022-10-30","s":"20W EMA","y":22400},{"d":"2022-11-13","s":"20W EMA","y":20900},{"d":"2022-11-27","s":"20W EMA","y":20100},
      {"d":"2022-12-11","s":"20W EMA","y":19700},{"d":"2022-12-25","s":"20W EMA","y":19400},{"d":"2023-01-08","s":"20W EMA","y":19300},
      {"d":"2023-01-22","s":"20W EMA","y":20000},{"d":"2023-02-12","s":"20W EMA","y":20700},{"d":"2023-03-12","s":"20W EMA","y":21400},
      {"d":"2023-04-02","s":"20W EMA","y":23000},{"d":"2023-05-07","s":"20W EMA","y":25300},{"d":"2023-06-11","s":"20W EMA","y":26200},
      {"d":"2023-07-16","s":"20W EMA","y":27600},{"d":"2023-08-13","s":"20W EMA","y":28000},{"d":"2023-09-03","s":"20W EMA","y":27600},
      {"d":"2023-10-08","s":"20W EMA","y":27400},{"d":"2023-10-22","s":"20W EMA","y":27600},{"d":"2023-11-12","s":"20W EMA","y":29600},
      {"d":"2023-11-19","s":"20W EMA","y":30600},{"d":"2023-12-10","s":"20W EMA","y":33000},{"d":"2024-01-07","s":"20W EMA","y":36300},
      {"d":"2024-02-04","s":"20W EMA","y":38100},{"d":"2024-02-18","s":"20W EMA","y":40800},{"d":"2024-03-03","s":"20W EMA","y":44000},
      {"d":"2024-03-17","s":"20W EMA","y":47900},{"d":"2024-04-07","s":"20W EMA","y":54100},{"d":"2024-04-21","s":"20W EMA","y":56000},
      {"d":"2024-05-05","s":"20W EMA","y":57200},{"d":"2024-05-19","s":"20W EMA","y":58200},{"d":"2024-06-09","s":"20W EMA","y":61500},
      {"d":"2024-06-30","s":"20W EMA","y":61800},{"d":"2024-07-14","s":"20W EMA","y":61000},{"d":"2024-07-28","s":"20W EMA","y":62400},
      {"d":"2024-08-18","s":"20W EMA","y":61800},{"d":"2024-09-15","s":"20W EMA","y":60500},{"d":"2024-10-06","s":"20W EMA","y":61500},
      {"d":"2024-11-03","s":"20W EMA","y":63400},{"d":"2024-11-17","s":"20W EMA","y":67800},{"d":"2024-12-01","s":"20W EMA","y":71900},
      {"d":"2024-12-15","s":"20W EMA","y":78500},{"d":"2025-01-05","s":"20W EMA","y":82300},{"d":"2025-01-19","s":"20W EMA","y":85200},
      {"d":"2025-02-02","s":"20W EMA","y":88500},{"d":"2025-03-02","s":"20W EMA","y":90500},{"d":"2025-03-16","s":"20W EMA","y":89300},
      {"d":"2025-03-30","s":"20W EMA","y":88100},{"d":"2025-04-20","s":"20W EMA","y":86800},{"d":"2025-05-04","s":"20W EMA","y":88100},
      {"d":"2025-05-25","s":"20W EMA","y":92600},{"d":"2025-06-15","s":"20W EMA","y":95900},{"d":"2025-07-06","s":"20W EMA","y":98600},
      {"d":"2025-07-27","s":"20W EMA","y":103800},{"d":"2025-08-10","s":"20W EMA","y":106700},{"d":"2025-08-31","s":"20W EMA","y":107900},
      {"d":"2025-09-28","s":"20W EMA","y":109800},{"d":"2025-10-12","s":"20W EMA","y":111200},{"d":"2025-11-02","s":"20W EMA","y":111200},
      {"d":"2025-11-09","s":"20W EMA","y":110000},{"d":"2025-11-23","s":"20W EMA","y":107500},{"d":"2025-12-14","s":"20W EMA","y":103400},
      {"d":"2026-01-04","s":"20W EMA","y":99200},{"d":"2026-01-18","s":"20W EMA","y":97600},{"d":"2026-02-01","s":"20W EMA","y":92600},
      {"d":"2026-03-08","s":"20W EMA","y":84300},{"d":"2026-04-05","s":"20W EMA","y":78500},{"d":"2026-05-03","s":"20W EMA","y":77800},
      {"d":"2026-05-24","s":"20W EMA","y":78100},{"d":"2026-05-31","s":"20W EMA","y":77300},{"d":"2026-06-28","s":"20W EMA","y":72700},
      {"d":"2026-07-19","s":"20W EMA","y":70700},{"d":"2026-08-16","s":"20W EMA","y":68400},{"d":"2026-08-23","s":"20W EMA","y":69400},
      {"d":"2026-08-30","s":"20W EMA","y":70900},
      {"d":"2021-09-05","s":"50W SMA","y":36700},{"d":"2021-10-10","s":"50W SMA","y":40400},{"d":"2021-11-14","s":"50W SMA","y":44600},
      {"d":"2021-12-05","s":"50W SMA","y":47200},{"d":"2021-12-26","s":"50W SMA","y":48300},{"d":"2022-01-23","s":"50W SMA","y":48500},
      {"d":"2022-02-27","s":"50W SMA","y":47700},{"d":"2022-04-03","s":"50W SMA","y":45800},{"d":"2022-05-08","s":"50W SMA","y":44700},
      {"d":"2022-06-12","s":"50W SMA","y":44300},{"d":"2022-07-17","s":"50W SMA","y":42900},{"d":"2022-08-14","s":"50W SMA","y":40800},
      {"d":"2022-09-18","s":"50W SMA","y":37100},{"d":"2022-10-23","s":"50W SMA","y":32100},{"d":"2022-11-20","s":"50W SMA","y":30400},
      {"d":"2022-12-11","s":"50W SMA","y":28800},{"d":"2023-01-08","s":"50W SMA","y":27600},{"d":"2023-02-26","s":"50W SMA","y":25100},
      {"d":"2023-04-02","s":"50W SMA","y":23000},{"d":"2023-05-21","s":"50W SMA","y":22000},{"d":"2023-06-11","s":"50W SMA","y":22200},
      {"d":"2023-07-16","s":"50W SMA","y":23000},{"d":"2023-08-20","s":"50W SMA","y":23700},{"d":"2023-09-24","s":"50W SMA","y":24300},
      {"d":"2023-10-22","s":"50W SMA","y":25100},{"d":"2023-11-19","s":"50W SMA","y":26500},{"d":"2023-12-17","s":"50W SMA","y":28400},
      {"d":"2024-01-21","s":"50W SMA","y":30500},{"d":"2024-02-25","s":"50W SMA","y":33200},{"d":"2024-03-24","s":"50W SMA","y":36300},
      {"d":"2024-05-12","s":"50W SMA","y":41400},{"d":"2024-06-30","s":"50W SMA","y":47000},{"d":"2024-08-11","s":"50W SMA","y":51200},
      {"d":"2024-09-22","s":"50W SMA","y":54100},{"d":"2024-11-03","s":"50W SMA","y":58600},{"d":"2024-12-01","s":"50W SMA","y":63600},
      {"d":"2025-01-05","s":"50W SMA","y":68200},{"d":"2025-02-02","s":"50W SMA","y":72700},{"d":"2025-03-02","s":"50W SMA","y":74800},
      {"d":"2025-04-13","s":"50W SMA","y":76900},{"d":"2025-05-18","s":"50W SMA","y":80200},{"d":"2025-06-08","s":"50W SMA","y":82500},
      {"d":"2025-07-06","s":"50W SMA","y":86400},{"d":"2025-08-10","s":"50W SMA","y":91000},{"d":"2025-09-14","s":"50W SMA","y":95900},
      {"d":"2025-10-19","s":"50W SMA","y":101300},{"d":"2025-11-09","s":"50W SMA","y":103000},{"d":"2025-11-23","s":"50W SMA","y":102600},
      {"d":"2025-12-28","s":"50W SMA","y":101700},{"d":"2026-01-25","s":"50W SMA","y":100900},{"d":"2026-03-01","s":"50W SMA","y":99200},
      {"d":"2026-04-05","s":"50W SMA","y":97600},{"d":"2026-05-10","s":"50W SMA","y":95100},{"d":"2026-06-14","s":"50W SMA","y":91800},
      {"d":"2026-07-19","s":"50W SMA","y":87600},{"d":"2026-08-16","s":"50W SMA","y":83500},{"d":"2026-08-30","s":"50W SMA","y":81000}
    ],
    "macd": [
      {"d":"2021-09-05","s":"MACD","y":2173},{"d":"2021-09-19","s":"MACD","y":2173},{"d":"2021-09-26","s":"MACD","y":1875},
      {"d":"2021-10-10","s":"MACD","y":2470},{"d":"2021-10-24","s":"MACD","y":4107},{"d":"2021-10-31","s":"MACD","y":5000},
      {"d":"2021-11-14","s":"MACD","y":5893},{"d":"2021-11-28","s":"MACD","y":5357},{"d":"2021-12-12","s":"MACD","y":4107},
      {"d":"2021-12-19","s":"MACD","y":2619},{"d":"2022-01-02","s":"MACD","y":1726},{"d":"2022-01-16","s":"MACD","y":-60},
      {"d":"2022-01-30","s":"MACD","y":-1548},{"d":"2022-02-13","s":"MACD","y":-1845},{"d":"2022-02-27","s":"MACD","y":-2440},
      {"d":"2022-03-13","s":"MACD","y":-2887},{"d":"2022-03-27","s":"MACD","y":-2143},{"d":"2022-04-03","s":"MACD","y":-1548},
      {"d":"2022-04-17","s":"MACD","y":-1696},{"d":"2022-05-01","s":"MACD","y":-1994},{"d":"2022-05-15","s":"MACD","y":-2887},
      {"d":"2022-05-29","s":"MACD","y":-3780},{"d":"2022-06-19","s":"MACD","y":-4970},{"d":"2022-07-03","s":"MACD","y":-6011},
      {"d":"2022-07-17","s":"MACD","y":-6309},{"d":"2022-07-31","s":"MACD","y":-5863},{"d":"2022-08-14","s":"MACD","y":-5357},
      {"d":"2022-08-28","s":"MACD","y":-5119},{"d":"2022-09-11","s":"MACD","y":-4762},{"d":"2022-10-02","s":"MACD","y":-4375},
      {"d":"2022-10-23","s":"MACD","y":-3929},{"d":"2022-11-06","s":"MACD","y":-3333},{"d":"2022-11-27","s":"MACD","y":-3393},
      {"d":"2022-12-18","s":"MACD","y":-3095},{"d":"2023-01-08","s":"MACD","y":-2589},{"d":"2023-01-22","s":"MACD","y":-1696},
      {"d":"2023-02-05","s":"MACD","y":-893},{"d":"2023-02-26","s":"MACD","y":-119},{"d":"2023-03-12","s":"MACD","y":89},
      {"d":"2023-03-26","s":"MACD","y":1131},{"d":"2023-04-09","s":"MACD","y":1726},{"d":"2023-04-23","s":"MACD","y":1875},
      {"d":"2023-05-07","s":"MACD","y":1964},{"d":"2023-05-21","s":"MACD","y":1667},{"d":"2023-06-04","s":"MACD","y":1577},
      {"d":"2023-06-18","s":"MACD","y":1280},{"d":"2023-07-02","s":"MACD","y":1667},{"d":"2023-07-23","s":"MACD","y":1726},
      {"d":"2023-08-06","s":"MACD","y":1488},{"d":"2023-08-27","s":"MACD","y":893},{"d":"2023-09-10","s":"MACD","y":298},
      {"d":"2023-10-01","s":"MACD","y":179},{"d":"2023-10-15","s":"MACD","y":298},{"d":"2023-10-29","s":"MACD","y":1071},
      {"d":"2023-11-19","s":"MACD","y":2024},{"d":"2023-12-10","s":"MACD","y":3512},{"d":"2023-12-24","s":"MACD","y":3958},
      {"d":"2024-01-07","s":"MACD","y":4256},{"d":"2024-01-28","s":"MACD","y":3810},{"d":"2024-02-18","s":"MACD","y":5000},
      {"d":"2024-03-03","s":"MACD","y":5893},{"d":"2024-03-17","s":"MACD","y":8125},{"d":"2024-03-24","s":"MACD","y":8928},
      {"d":"2024-04-07","s":"MACD","y":9523},{"d":"2024-04-21","s":"MACD","y":9017},{"d":"2024-04-28","s":"MACD","y":8125},
      {"d":"2024-05-12","s":"MACD","y":7232},{"d":"2024-06-02","s":"MACD","y":6934},{"d":"2024-06-16","s":"MACD","y":6190},
      {"d":"2024-06-30","s":"MACD","y":5000},{"d":"2024-07-14","s":"MACD","y":3661},{"d":"2024-07-28","s":"MACD","y":3810},
      {"d":"2024-08-11","s":"MACD","y":2678},{"d":"2024-08-25","s":"MACD","y":1875},{"d":"2024-09-08","s":"MACD","y":684},
      {"d":"2024-09-29","s":"MACD","y":1190},{"d":"2024-10-13","s":"MACD","y":1280},{"d":"2024-11-03","s":"MACD","y":2173},
      {"d":"2024-11-10","s":"MACD","y":3363},{"d":"2024-11-24","s":"MACD","y":6785},{"d":"2024-12-08","s":"MACD","y":9612},
      {"d":"2024-12-15","s":"MACD","y":10416},{"d":"2024-12-29","s":"MACD","y":10416},{"d":"2025-01-05","s":"MACD","y":10208},
      {"d":"2025-01-12","s":"MACD","y":9910},{"d":"2025-01-26","s":"MACD","y":10118},{"d":"2025-02-09","s":"MACD","y":9166},
      {"d":"2025-03-02","s":"MACD","y":7678},{"d":"2025-03-09","s":"MACD","y":5297},{"d":"2025-03-30","s":"MACD","y":3661},
      {"d":"2025-04-06","s":"MACD","y":1726},{"d":"2025-04-20","s":"MACD","y":1131},{"d":"2025-05-04","s":"MACD","y":2173},
      {"d":"2025-05-18","s":"MACD","y":4404},{"d":"2025-06-08","s":"MACD","y":5744},{"d":"2025-06-15","s":"MACD","y":5893},
      {"d":"2025-06-29","s":"MACD","y":5893},{"d":"2025-07-13","s":"MACD","y":7083},{"d":"2025-07-27","s":"MACD","y":7827},
      {"d":"2025-08-10","s":"MACD","y":7827},{"d":"2025-08-24","s":"MACD","y":7232},{"d":"2025-08-31","s":"MACD","y":6041},
      {"d":"2025-09-21","s":"MACD","y":5654},{"d":"2025-09-28","s":"MACD","y":5148},{"d":"2025-10-05","s":"MACD","y":5654},
      {"d":"2025-10-19","s":"MACD","y":4464},{"d":"2025-11-02","s":"MACD","y":3214},{"d":"2025-11-16","s":"MACD","y":833},
      {"d":"2025-11-30","s":"MACD","y":-1399},{"d":"2025-12-14","s":"MACD","y":-3333},{"d":"2025-12-28","s":"MACD","y":-4762},
      {"d":"2026-01-11","s":"MACD","y":-4672},{"d":"2026-01-25","s":"MACD","y":-5416},{"d":"2026-02-08","s":"MACD","y":-7499},
      {"d":"2026-02-22","s":"MACD","y":-9285},{"d":"2026-03-08","s":"MACD","y":-9821},{"d":"2026-03-15","s":"MACD","y":-9434},
      {"d":"2026-03-29","s":"MACD","y":-9523},{"d":"2026-04-12","s":"MACD","y":-8392},{"d":"2026-05-03","s":"MACD","y":-6011},
      {"d":"2026-05-17","s":"MACD","y":-4375},{"d":"2026-05-31","s":"MACD","y":-3988},{"d":"2026-06-14","s":"MACD","y":-5119},
      {"d":"2026-06-28","s":"MACD","y":-5863},{"d":"2026-07-12","s":"MACD","y":-5714},{"d":"2026-08-02","s":"MACD","y":-5357},
      {"d":"2026-08-16","s":"MACD","y":-4881},{"d":"2026-08-23","s":"MACD","y":-3333},{"d":"2026-08-30","s":"MACD","y":-1548},
      {"d":"2021-09-05","s":"signal","y":1190},{"d":"2021-09-26","s":"signal","y":1577},{"d":"2021-10-10","s":"signal","y":2321},
      {"d":"2021-11-07","s":"signal","y":3810},{"d":"2021-11-28","s":"signal","y":4553},{"d":"2021-12-19","s":"signal","y":3958},
      {"d":"2022-01-02","s":"signal","y":2619},{"d":"2022-01-30","s":"signal","y":684},{"d":"2022-02-20","s":"signal","y":-952},
      {"d":"2022-03-20","s":"signal","y":-1845},{"d":"2022-04-10","s":"signal","y":-1845},{"d":"2022-05-01","s":"signal","y":-1845},
      {"d":"2022-05-22","s":"signal","y":-2500},{"d":"2022-06-19","s":"signal","y":-3631},{"d":"2022-07-10","s":"signal","y":-4821},
      {"d":"2022-07-31","s":"signal","y":-5357},{"d":"2022-08-21","s":"signal","y":-5357},{"d":"2022-09-11","s":"signal","y":-5059},
      {"d":"2022-10-02","s":"signal","y":-4672},{"d":"2022-11-06","s":"signal","y":-4166},{"d":"2022-12-04","s":"signal","y":-3631},
      {"d":"2023-01-01","s":"signal","y":-3184},{"d":"2023-01-22","s":"signal","y":-2738},{"d":"2023-02-12","s":"signal","y":-1548},
      {"d":"2023-03-12","s":"signal","y":-655},{"d":"2023-04-02","s":"signal","y":536},{"d":"2023-04-30","s":"signal","y":1280},
      {"d":"2023-05-21","s":"signal","y":1488},{"d":"2023-06-18","s":"signal","y":1488},{"d":"2023-07-09","s":"signal","y":1667},
      {"d":"2023-08-06","s":"signal","y":1577},{"d":"2023-08-27","s":"signal","y":1131},{"d":"2023-09-24","s":"signal","y":774},
      {"d":"2023-10-15","s":"signal","y":595},{"d":"2023-11-05","s":"signal","y":833},{"d":"2023-11-19","s":"signal","y":1280},
      {"d":"2023-12-10","s":"signal","y":2024},{"d":"2023-12-24","s":"signal","y":2976},{"d":"2024-01-21","s":"signal","y":3661},
      {"d":"2024-02-04","s":"signal","y":3810},{"d":"2024-02-25","s":"signal","y":4404},{"d":"2024-03-10","s":"signal","y":5446},
      {"d":"2024-03-17","s":"signal","y":6785},{"d":"2024-04-07","s":"signal","y":7827},{"d":"2024-04-28","s":"signal","y":8125},
      {"d":"2024-05-19","s":"signal","y":7678},{"d":"2024-06-16","s":"signal","y":7142},{"d":"2024-07-14","s":"signal","y":5595},
      {"d":"2024-08-04","s":"signal","y":4107},{"d":"2024-09-01","s":"signal","y":2619},{"d":"2024-09-22","s":"signal","y":1726},
      {"d":"2024-10-20","s":"signal","y":1577},{"d":"2024-11-03","s":"signal","y":2024},{"d":"2024-11-24","s":"signal","y":3512},
      {"d":"2024-12-15","s":"signal","y":6190},{"d":"2025-01-05","s":"signal","y":7976},{"d":"2025-01-26","s":"signal","y":9166},
      {"d":"2025-02-09","s":"signal","y":9226},{"d":"2025-03-02","s":"signal","y":8720},{"d":"2025-03-16","s":"signal","y":7380},
      {"d":"2025-04-13","s":"signal","y":5000},{"d":"2025-05-04","s":"signal","y":3065},{"d":"2025-05-25","s":"signal","y":3512},
      {"d":"2025-06-15","s":"signal","y":4702},{"d":"2025-07-13","s":"signal","y":5446},{"d":"2025-08-03","s":"signal","y":6636},
      {"d":"2025-08-24","s":"signal","y":7083},{"d":"2025-09-14","s":"signal","y":6339},{"d":"2025-10-12","s":"signal","y":5893},
      {"d":"2025-11-02","s":"signal","y":5000},{"d":"2025-11-30","s":"signal","y":2619},{"d":"2025-12-14","s":"signal","y":238},
      {"d":"2026-01-04","s":"signal","y":-1548},{"d":"2026-01-25","s":"signal","y":-3482},{"d":"2026-02-22","s":"signal","y":-5714},
      {"d":"2026-03-15","s":"signal","y":-7499},{"d":"2026-04-12","s":"signal","y":-8452},{"d":"2026-04-26","s":"signal","y":-8095},
      {"d":"2026-05-17","s":"signal","y":-6606},{"d":"2026-06-07","s":"signal","y":-5416},{"d":"2026-07-05","s":"signal","y":-5416},
      {"d":"2026-07-26","s":"signal","y":-5565},{"d":"2026-08-16","s":"signal","y":-5267},{"d":"2026-08-23","s":"signal","y":-4523},
      {"d":"2026-08-30","s":"signal","y":-3869}
    ],
    "volma": [
      {"d":"2021-09-05","y":294000},{"d":"2021-09-19","y":280000},{"d":"2021-10-10","y":244000},{"d":"2021-11-14","y":235000},
      {"d":"2021-12-05","y":250000},{"d":"2022-01-02","y":244000},{"d":"2022-01-23","y":244000},{"d":"2022-02-20","y":228000},
      {"d":"2022-03-20","y":210000},{"d":"2022-04-10","y":203000},{"d":"2022-05-01","y":190000},{"d":"2022-05-15","y":203000},
      {"d":"2022-06-12","y":200000},{"d":"2022-07-10","y":209000},{"d":"2022-08-21","y":213000},{"d":"2022-09-11","y":223000},
      {"d":"2022-10-23","y":219000},{"d":"2022-11-13","y":240000},{"d":"2022-12-04","y":235000},{"d":"2023-01-01","y":219000},
      {"d":"2023-01-29","y":210000},{"d":"2023-02-19","y":200000},{"d":"2023-03-19","y":188000},{"d":"2023-04-02","y":160000},
      {"d":"2023-04-23","y":156000},{"d":"2023-05-28","y":153000},{"d":"2023-07-02","y":140000},{"d":"2023-07-30","y":123000},
      {"d":"2023-08-13","y":106000},{"d":"2023-09-10","y":94000},{"d":"2023-10-08","y":90000},{"d":"2023-11-12","y":100000},
      {"d":"2023-12-10","y":110000},{"d":"2024-01-07","y":128000},{"d":"2024-02-04","y":144000},{"d":"2024-02-25","y":160000},
      {"d":"2024-03-17","y":200000},{"d":"2024-03-24","y":210000},{"d":"2024-04-21","y":228000},{"d":"2024-05-26","y":231000},
      {"d":"2024-07-14","y":234000},{"d":"2024-08-04","y":213000},{"d":"2024-09-01","y":206000},{"d":"2024-10-27","y":213000},
      {"d":"2024-11-17","y":253000},{"d":"2024-12-22","y":325000},{"d":"2025-02-02","y":375000},{"d":"2025-03-02","y":381000},
      {"d":"2025-03-16","y":396000},{"d":"2025-04-13","y":350000},{"d":"2025-05-11","y":294000},{"d":"2025-06-01","y":306000},
      {"d":"2025-06-29","y":290000},{"d":"2025-07-27","y":323000},{"d":"2025-08-31","y":371000},{"d":"2025-10-05","y":403000},
      {"d":"2025-10-26","y":425000},{"d":"2025-11-23","y":465000},{"d":"2025-12-14","y":448000},{"d":"2026-01-25","y":394000},
      {"d":"2026-02-08","y":410000},{"d":"2026-03-01","y":375000},{"d":"2026-03-22","y":359000},{"d":"2026-04-12","y":313000},
      {"d":"2026-05-10","y":285000},{"d":"2026-06-07","y":281000},{"d":"2026-07-05","y":250000},{"d":"2026-07-19","y":244000},
      {"d":"2026-08-23","y":213000},{"d":"2026-08-30","y":200000}
    ]
  },
  "vconcat": [
    {
      "width": 1829,
      "height": 788,
      "title": {
        "text": "protocol btc\u00a0\u00a0\u00a0·\u00a0\u00a0\u00a0W\u00a0\u00a0\u00a0·\u00a0\u00a0\u00a0Cup and handle",
        "subtitle": "2023-11-19\u00a0\u00a0\u00a0\u00a0last 77,825\u00a0\u00a0\u00a0\u00a0entry 37,387\u00a0\u00a0\u00a0\u00a0stop 24,930\u00a0\u00a0\u00a0\u00a0target 41,125",
        "anchor": "start", "frame": "group", "offset": 40,
        "font": "Liberation Sans", "fontSize": 30, "fontWeight": "normal", "color": "#e4e4e4",
        "subtitleFont": "Liberation Sans", "subtitleFontSize": 21.5, "subtitleColor": "#8a8a8a", "subtitlePadding": 10
      },
      "layer": [
        {
          "data": {"values": [{"a": "2023-11-19", "b": "2023-12-09"}]},
          "mark": {"type": "rect", "color": "#00300f"},
          "encoding": {
            "x": {"field": "a", "type": "temporal",
              "scale": {"domain": [{"year":2021,"month":8,"date":13},{"year":2026,"month":9,"date":19}]},
              "axis": {"title": null, "labels": false, "grid": true, "labelOverlap": false,
                "values": [{"year":2021,"month":8,"date":15},{"year":2021,"month":10,"date":1},{"year":2021,"month":11,"date":15},
                  {"year":2022,"month":1,"date":1},{"year":2022,"month":2,"date":15},{"year":2022,"month":4,"date":1},{"year":2022,"month":5,"date":15},{"year":2022,"month":7,"date":1},{"year":2022,"month":8,"date":15},{"year":2022,"month":10,"date":1},{"year":2022,"month":11,"date":15},
                  {"year":2023,"month":1,"date":1},{"year":2023,"month":2,"date":15},{"year":2023,"month":4,"date":1},{"year":2023,"month":5,"date":15},{"year":2023,"month":7,"date":1},{"year":2023,"month":8,"date":15},{"year":2023,"month":10,"date":1},{"year":2023,"month":11,"date":15},
                  {"year":2024,"month":1,"date":1},{"year":2024,"month":2,"date":15},{"year":2024,"month":4,"date":1},{"year":2024,"month":5,"date":15},{"year":2024,"month":7,"date":1},{"year":2024,"month":8,"date":15},{"year":2024,"month":10,"date":1},{"year":2024,"month":11,"date":15},
                  {"year":2025,"month":1,"date":1},{"year":2025,"month":2,"date":15},{"year":2025,"month":4,"date":1},{"year":2025,"month":5,"date":15},{"year":2025,"month":7,"date":1},{"year":2025,"month":8,"date":15},{"year":2025,"month":10,"date":1},{"year":2025,"month":11,"date":15},
                  {"year":2026,"month":1,"date":1},{"year":2026,"month":2,"date":15},{"year":2026,"month":4,"date":1},{"year":2026,"month":5,"date":15},{"year":2026,"month":7,"date":1},{"year":2026,"month":8,"date":15}],
                "gridColor": {"condition": {"test": "month(datum.value) % 6 == 0 && date(datum.value) == 1", "value": "#272727"}, "value": "#1a1a1a"},
                "tickOpacity": {"condition": {"test": "month(datum.value) % 6 == 0 && date(datum.value) == 1", "value": 1}, "value": 0}
              }
            },
            "x2": {"field": "b"}
          }
        },
        {
          "data": {"name": "candles"},
          "mark": {"type": "rule", "strokeWidth": 1.5},
          "encoding": {
            "x": {"field": "d", "type": "temporal"},
            "y": {"field": "l", "type": "quantitative",
              "scale": {"domain": [7000, 134500], "nice": false, "zero": false},
              "axis": {"title": null, "labelPadding": 12, "grid": true, "labelOverlap": false,
                "values": [10000,15000,20000,25000,30000,35000,40000,45000,50000,55000,60000,65000,70000,75000,80000,85000,90000,95000,100000,105000,110000,115000,120000,125000,130000],
                "labelExpr": "datum.value % 20000 == 0 ? format(datum.value, ',') : ''",
                "gridColor": {"condition": {"test": "datum.value % 20000 == 0", "value": "#242424"}, "value": "#191919"},
                "tickOpacity": {"condition": {"test": "datum.value % 20000 == 0", "value": 1}, "value": 0}
              }
            },
            "y2": {"field": "h"},
            "color": {"condition": [
              {"test": "time(toDate(datum.d)) >= time(toDate('2023-11-19')) && time(toDate(datum.d)) <= time(toDate('2023-12-10'))", "value": "#00ff41"},
              {"test": "datum.c >= datum.o", "value": "#d6d6d6"}], "value": "#5a5a5a"}
          }
        },
        {
          "data": {"name": "candles"},
          "mark": {"type": "bar", "width": 4.5},
          "encoding": {
            "x": {"field": "d", "type": "temporal"},
            "y": {"field": "o", "type": "quantitative"},
            "y2": {"field": "c"},
            "color": {"condition": [
              {"test": "time(toDate(datum.d)) >= time(toDate('2023-11-19')) && time(toDate(datum.d)) <= time(toDate('2023-12-10'))", "value": "#00ff41"},
              {"test": "datum.c >= datum.o", "value": "#d6d6d6"}], "value": "#5a5a5a"}
          }
        },
        {"mark": {"type": "rule", "color": "#0f9a30", "strokeWidth": 2.5}, "encoding": {"y": {"datum": 41125}}},
        {"mark": {"type": "rule", "color": "#a6a6a6", "strokeWidth": 1.5}, "encoding": {"y": {"datum": 37387}}},
        {"mark": {"type": "rule", "color": "#9c1430", "strokeWidth": 2.5}, "encoding": {"y": {"datum": 24930}}},
        {
          "data": {"values": [{"a": "2023-12-09", "b": "2026-08-30", "y": 41125}]},
          "mark": {"type": "rule", "color": "#00ff41", "strokeWidth": 6},
          "encoding": {"x": {"field": "a", "type": "temporal"}, "x2": {"field": "b"}, "y": {"field": "y", "type": "quantitative"}}
        },
        {
          "data": {"values": [{"a": "2023-11-20", "b": "2026-08-30", "y": 24930}]},
          "mark": {"type": "rule", "color": "#f2174b", "strokeWidth": 6},
          "encoding": {"x": {"field": "a", "type": "temporal"}, "x2": {"field": "b"}, "y": {"field": "y", "type": "quantitative"}}
        },
        {
          "data": {"values": [{"d": "2023-11-19"}]},
          "mark": {"type": "rule", "color": "#00ff41", "strokeWidth": 4},
          "encoding": {"x": {"field": "d", "type": "temporal"}}
        },
        {
          "data": {"values": [{"d": "2023-12-09"}]},
          "mark": {"type": "rule", "color": "#00ff41", "strokeWidth": 3},
          "encoding": {"x": {"field": "d", "type": "temporal"}}
        },
        {
          "data": {"name": "ma"},
          "mark": {"type": "line", "strokeWidth": 2.4, "interpolate": "monotone"},
          "encoding": {
            "x": {"field": "d", "type": "temporal"},
            "y": {"field": "y", "type": "quantitative"},
            "color": {"field": "s", "type": "nominal",
              "scale": {"domain": ["20W EMA", "50W SMA"], "range": ["#d4d4d4", "#7a7a7a"]},
              "legend": {"orient": "none", "legendX": 21, "legendY": 9, "direction": "horizontal", "title": null, "padding": 0,
                "symbolType": "stroke", "symbolSize": 1600, "symbolStrokeWidth": 2.2, "labelOffset": 15, "columnPadding": 42,
                "labelFontSize": 21, "labelColor": "#a8a8a8", "labelFont": "Liberation Sans"}},
            "strokeDash": {"field": "s", "type": "nominal",
              "scale": {"domain": ["20W EMA", "50W SMA"], "range": [[1, 0], [8, 6]]},
              "legend": {"orient": "none", "legendX": 21, "legendY": 9, "direction": "horizontal", "title": null, "padding": 0,
                "symbolType": "stroke", "symbolSize": 1600, "symbolStrokeWidth": 2.2, "labelOffset": 15, "columnPadding": 42,
                "labelFontSize": 21, "labelColor": "#a8a8a8", "labelFont": "Liberation Sans"}}
          }
        },
        {
          "data": {"values": [{"d": "2023-11-19", "y": 37387}, {"d": "2023-12-21", "y": 42850}]},
          "mark": {"type": "line", "color": "#00e83c", "strokeWidth": 3},
          "encoding": {"x": {"field": "d", "type": "temporal"}, "y": {"field": "y", "type": "quantitative"}}
        },
        {
          "data": {"values": [{"d": "2023-11-19", "y": 37387}]},
          "mark": {"type": "point", "shape": "circle", "size": 190, "filled": false, "fill": "#000000", "fillOpacity": 1, "stroke": "#00ff41", "strokeWidth": 3.5, "opacity": 1},
          "encoding": {"x": {"field": "d", "type": "temporal"}, "y": {"field": "y", "type": "quantitative"}}
        },
        {
          "data": {"values": [{"d": "2023-12-09", "y": 41125}]},
          "mark": {"type": "point", "shape": "M-1,-1L1,1M-1,1L1,-1", "size": 320, "filled": false, "stroke": "#cfd8cf", "strokeWidth": 2.5, "opacity": 1},
          "encoding": {"x": {"field": "d", "type": "temporal"}, "y": {"field": "y", "type": "quantitative"}}
        },
        {
          "data": {"values": [{"d": "2023-12-29", "y": 44700, "t": "exit win"}]},
          "mark": {"type": "text", "align": "left", "baseline": "alphabetic", "fontSize": 19, "color": "#5e5e5e", "font": "Liberation Sans"},
          "encoding": {"x": {"field": "d", "type": "temporal"}, "y": {"field": "y", "type": "quantitative"}, "text": {"field": "t"}}
        },
        {
          "data": {"values": [{"d": "2023-12-20", "y": 44700, "t": "print"}]},
          "mark": {"type": "text", "align": "left", "baseline": "alphabetic", "fontSize": 19, "color": "#00ff41", "font": "Liberation Sans"},
          "encoding": {"x": {"field": "d", "type": "temporal"}, "y": {"field": "y", "type": "quantitative"}, "text": {"field": "t"}}
        },
        {
          "data": {"values": [{"d": "2026-09-19", "y": 41125, "t": "high\u00a0\u00a041,125"}]},
          "mark": {"type": "text", "align": "left", "baseline": "middle", "dx": 17, "fontSize": 20, "color": "#00ff41", "font": "Liberation Sans", "clip": false},
          "encoding": {"x": {"field": "d", "type": "temporal"}, "y": {"field": "y", "type": "quantitative"}, "text": {"field": "t"}}
        },
        {
          "data": {"values": [{"d": "2026-09-19", "y": 37387, "t": "entry\u00a0\u00a037,387"}]},
          "mark": {"type": "text", "align": "left", "baseline": "middle", "dx": 17, "dy": 4, "fontSize": 20, "color": "#d0d0d0", "font": "Liberation Sans", "clip": false},
          "encoding": {"x": {"field": "d", "type": "temporal"}, "y": {"field": "y", "type": "quantitative"}, "text": {"field": "t"}}
        },
        {
          "data": {"values": [{"d": "2026-09-19", "y": 24930, "t": "low\u00a0\u00a024,930"}]},
          "mark": {"type": "text", "align": "left", "baseline": "middle", "dx": 17, "fontSize": 20, "color": "#ff1a4b", "font": "Liberation Sans", "clip": false},
          "encoding": {"x": {"field": "d", "type": "temporal"}, "y": {"field": "y", "type": "quantitative"}, "text": {"field": "t"}}
        }
      ]
    },
    {
      "spacing": 15,
      "vconcat": [
        {
          "width": 1829,
          "height": 247,
          "layer": [
            {
              "data": {"values": [{"a": "2023-11-19", "b": "2023-12-09"}]},
              "mark": {"type": "rect", "color": "#00300f"},
              "encoding": {
                "x": {"field": "a", "type": "temporal",
                  "scale": {"domain": [{"year":2021,"month":8,"date":13},{"year":2026,"month":9,"date":19}]},
                  "axis": {"title": null, "labels": false, "grid": true, "labelOverlap": false,
                    "values": [{"year":2021,"month":8,"date":15},{"year":2021,"month":10,"date":1},{"year":2021,"month":11,"date":15},
                      {"year":2022,"month":1,"date":1},{"year":2022,"month":2,"date":15},{"year":2022,"month":4,"date":1},{"year":2022,"month":5,"date":15},{"year":2022,"month":7,"date":1},{"year":2022,"month":8,"date":15},{"year":2022,"month":10,"date":1},{"year":2022,"month":11,"date":15},
                      {"year":2023,"month":1,"date":1},{"year":2023,"month":2,"date":15},{"year":2023,"month":4,"date":1},{"year":2023,"month":5,"date":15},{"year":2023,"month":7,"date":1},{"year":2023,"month":8,"date":15},{"year":2023,"month":10,"date":1},{"year":2023,"month":11,"date":15},
                      {"year":2024,"month":1,"date":1},{"year":2024,"month":2,"date":15},{"year":2024,"month":4,"date":1},{"year":2024,"month":5,"date":15},{"year":2024,"month":7,"date":1},{"year":2024,"month":8,"date":15},{"year":2024,"month":10,"date":1},{"year":2024,"month":11,"date":15},
                      {"year":2025,"month":1,"date":1},{"year":2025,"month":2,"date":15},{"year":2025,"month":4,"date":1},{"year":2025,"month":5,"date":15},{"year":2025,"month":7,"date":1},{"year":2025,"month":8,"date":15},{"year":2025,"month":10,"date":1},{"year":2025,"month":11,"date":15},
                      {"year":2026,"month":1,"date":1},{"year":2026,"month":2,"date":15},{"year":2026,"month":4,"date":1},{"year":2026,"month":5,"date":15},{"year":2026,"month":7,"date":1},{"year":2026,"month":8,"date":15}],
                    "gridColor": {"condition": {"test": "month(datum.value) % 6 == 0 && date(datum.value) == 1", "value": "#272727"}, "value": "#1a1a1a"},
                    "tickOpacity": {"condition": {"test": "month(datum.value) % 6 == 0 && date(datum.value) == 1", "value": 1}, "value": 0}
                  }
                },
                "x2": {"field": "b"}
              }
            },
            {
              "data": {"values": [{"g": -9000}, {"g": -8000}, {"g": -7000}, {"g": -6000}, {"g": -4000}, {"g": -3000}, {"g": -2000}, {"g": -1000},
                {"g": 1000}, {"g": 2000}, {"g": 3000}, {"g": 4000}, {"g": 6000}, {"g": 7000}, {"g": 8000}, {"g": 9000}, {"g": 11000}]},
              "mark": {"type": "rule", "color": "#181818", "strokeWidth": 1},
              "encoding": {
                "y": {"field": "g", "type": "quantitative",
                  "scale": {"domain": [-10780, 11310], "nice": false, "zero": false},
                  "axis": {"title": "MACD", "titlePadding": 8, "labelPadding": 12, "grid": true, "gridColor": "#242424", "labelOverlap": false,
                    "values": [-10000, -5000, 0, 5000, 10000],
                    "labelExpr": "datum.value == 0 ? '0.00' : format(datum.value, ',')"
                  }
                }
              }
            },
            {"mark": {"type": "rule", "color": "#3a3a3a", "strokeWidth": 1.5}, "encoding": {"y": {"datum": 0}}},
            {
              "data": {"name": "candles"},
              "mark": {"type": "bar", "width": 4.5},
              "encoding": {
                "x": {"field": "d", "type": "temporal"},
                "y": {"field": "m", "type": "quantitative"},
                "y2": {"datum": 0},
                "color": {"condition": {"test": "datum.m >= 0", "value": "#6e6e6e"}, "value": "#454545"}
              }
            },
            {
              "data": {"values": [{"d": "2023-11-19"}]},
              "mark": {"type": "rule", "color": "#00ff41", "strokeWidth": 4},
              "encoding": {"x": {"field": "d", "type": "temporal"}}
            },
            {
              "data": {"values": [{"d": "2023-12-09"}]},
              "mark": {"type": "rule", "color": "#00ff41", "strokeWidth": 3},
              "encoding": {"x": {"field": "d", "type": "temporal"}}
            },
            {
              "data": {"name": "macd"},
              "mark": {"type": "line", "strokeWidth": 2.4, "interpolate": "monotone"},
              "encoding": {
                "x": {"field": "d", "type": "temporal"},
                "y": {"field": "y", "type": "quantitative"},
                "color": {"field": "s", "type": "nominal",
                  "scale": {"domain": ["MACD", "signal"], "range": ["#e8e8e8", "#7e7e7e"]},
                  "legend": {"orient": "none", "legendX": 15, "legendY": 3, "direction": "horizontal", "title": null, "padding": 0,
                    "symbolType": "stroke", "symbolSize": 1600, "symbolStrokeWidth": 2.2, "labelOffset": 14, "columnPadding": 38,
                    "labelFontSize": 18, "labelColor": "#a8a8a8", "labelFont": "Liberation Sans"}}
              }
            }
          ]
        },
        {
          "width": 1829,
          "height": 183,
          "layer": [
            {
              "data": {"values": [{"a": "2023-11-19", "b": "2023-12-09"}]},
              "mark": {"type": "rect", "color": "#00300f"},
              "encoding": {
                "x": {"field": "a", "type": "temporal",
                  "scale": {"domain": [{"year":2021,"month":8,"date":13},{"year":2026,"month":9,"date":19}]},
                  "axis": {"title": null, "grid": true, "labelPadding": 8, "labelOverlap": false,
                    "values": [{"year":2021,"month":8,"date":15},{"year":2021,"month":10,"date":1},{"year":2021,"month":11,"date":15},
                      {"year":2022,"month":1,"date":1},{"year":2022,"month":2,"date":15},{"year":2022,"month":4,"date":1},{"year":2022,"month":5,"date":15},{"year":2022,"month":7,"date":1},{"year":2022,"month":8,"date":15},{"year":2022,"month":10,"date":1},{"year":2022,"month":11,"date":15},
                      {"year":2023,"month":1,"date":1},{"year":2023,"month":2,"date":15},{"year":2023,"month":4,"date":1},{"year":2023,"month":5,"date":15},{"year":2023,"month":7,"date":1},{"year":2023,"month":8,"date":15},{"year":2023,"month":10,"date":1},{"year":2023,"month":11,"date":15},
                      {"year":2024,"month":1,"date":1},{"year":2024,"month":2,"date":15},{"year":2024,"month":4,"date":1},{"year":2024,"month":5,"date":15},{"year":2024,"month":7,"date":1},{"year":2024,"month":8,"date":15},{"year":2024,"month":10,"date":1},{"year":2024,"month":11,"date":15},
                      {"year":2025,"month":1,"date":1},{"year":2025,"month":2,"date":15},{"year":2025,"month":4,"date":1},{"year":2025,"month":5,"date":15},{"year":2025,"month":7,"date":1},{"year":2025,"month":8,"date":15},{"year":2025,"month":10,"date":1},{"year":2025,"month":11,"date":15},
                      {"year":2026,"month":1,"date":1},{"year":2026,"month":2,"date":15},{"year":2026,"month":4,"date":1},{"year":2026,"month":5,"date":15},{"year":2026,"month":7,"date":1},{"year":2026,"month":8,"date":15}],
                    "labelExpr": "month(datum.value) % 6 == 0 && date(datum.value) == 1 ? timeFormat(datum.value, '%b %Y') : ''",
                    "gridColor": {"condition": {"test": "month(datum.value) % 6 == 0 && date(datum.value) == 1", "value": "#272727"}, "value": "#1a1a1a"},
                    "tickOpacity": {"condition": {"test": "month(datum.value) % 6 == 0 && date(datum.value) == 1", "value": 1}, "value": 0}
                  }
                },
                "x2": {"field": "b"}
              }
            },
            {
              "data": {"name": "candles"},
              "mark": {"type": "bar", "width": 5},
              "encoding": {
                "x": {"field": "d", "type": "temporal"},
                "y": {"field": "v", "type": "quantitative",
                  "scale": {"domain": [0, 680000], "nice": false},
                  "axis": {"title": "vol", "titlePadding": 13, "labelPadding": 12, "grid": true, "labelOverlap": false,
                    "values": [0,50000,100000,150000,200000,250000,300000,350000,400000,450000,500000,550000,600000,650000],
                    "labelExpr": "datum.value % 200000 != 0 ? '' : (datum.value == 0 ? '0' : datum.value + 'M')",
                    "gridColor": {"condition": {"test": "datum.value % 200000 == 0", "value": "#242424"}, "value": "#191919"},
                    "tickOpacity": {"condition": {"test": "datum.value % 200000 == 0", "value": 1}, "value": 0}
                  }
                },
                "y2": {"datum": 0},
                "color": {"condition": {"test": "datum.c >= datum.o", "value": "#8a8a8a"}, "value": "#4c4c4c"}
              }
            },
            {
              "data": {"values": [{"d": "2023-11-19"}]},
              "mark": {"type": "rule", "color": "#00ff41", "strokeWidth": 4},
              "encoding": {"x": {"field": "d", "type": "temporal"}}
            },
            {
              "data": {"values": [{"d": "2023-12-09"}]},
              "mark": {"type": "rule", "color": "#00ff41", "strokeWidth": 3},
              "encoding": {"x": {"field": "d", "type": "temporal"}}
            },
            {
              "data": {"name": "volma"},
              "mark": {"type": "line", "color": "#cfcfcf", "strokeWidth": 2.2, "interpolate": "monotone"},
              "encoding": {"x": {"field": "d", "type": "temporal"}, "y": {"field": "y", "type": "quantitative"}}
            }
          ]
        }
      ]
    }
  ]
}
